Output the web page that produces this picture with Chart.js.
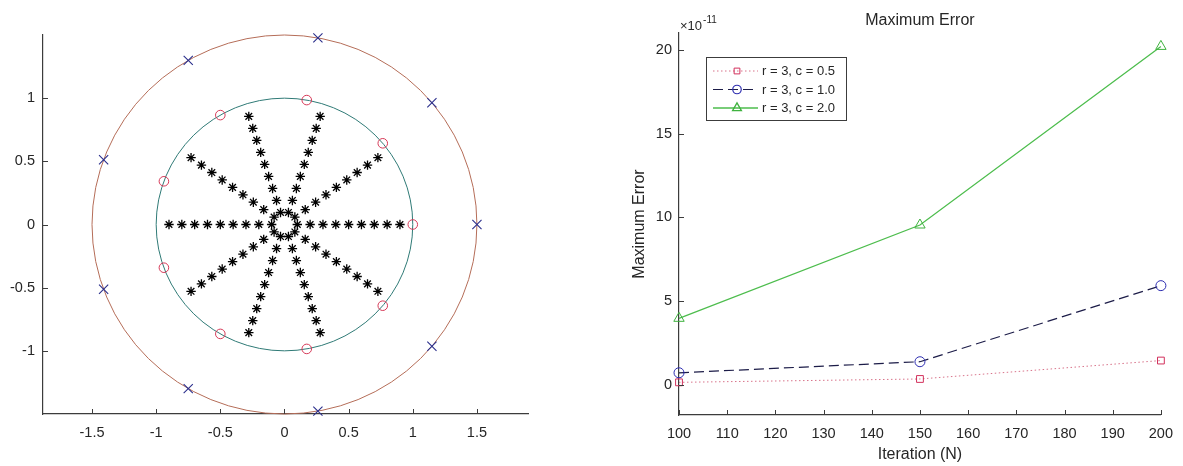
<!DOCTYPE html>
<html>
<head>
<meta charset="utf-8">
<title>Star grid and maximum error</title>
<script src="https://cdn.jsdelivr.net/npm/chart.js@4.4.1/dist/chart.umd.min.js"></script>
<style>
  html, body { margin: 0; padding: 0; background: #fff; }
  #wrap { position: relative; width: 1183px; height: 466px; }
  #left { position: absolute; left: 0; top: 0; }
  #right { position: absolute; left: 560px; top: 0; }
</style>
</head>
<body>
<div id="wrap">
  <canvas id="left" width="560" height="466"></canvas>
  <canvas id="right" width="623" height="466"></canvas>
</div>
<script>
// left panel: star grid inside two circles
const circleRadii = [1.5, 1.0];
const circleColors = ['#b56d58', '#2f7a76'];
const ringAngles = [0, 40, 80, 120, 160, 200, 240, 280, 320];      // degrees
const starRays = [0, 36, 72, 108, 144, 180, 216, 252, 288, 324];   // degrees
const starRadii = [0.1, 0.2, 0.3, 0.4, 0.5, 0.6, 0.7, 0.8, 0.9];
const leftXTicks = [-1.5, -1, -0.5, 0, 0.5, 1, 1.5];
const leftYTicks = [-1, -0.5, 0, 0.5, 1];

// right panel: maximum error per iteration count, in units of 1e-11
const iterations = [100, 150, 200];
const errC05 = [0.15, 0.35, 1.45];
const errC10 = [0.72, 1.38, 5.92];
const errC20 = [3.97, 9.54, 20.2];
const seriesLabels = ['r = 3, c = 0.5', 'r = 3, c = 1.0', 'r = 3, c = 2.0'];
const rightXTicks = [100, 110, 120, 130, 140, 150, 160, 170, 180, 190, 200];
const rightYTicks = [0, 5, 10, 15, 20];

const FONT = "'Liberation Sans', Arial, Helvetica, sans-serif";
const INK = '#262626';
const AXIS = '#3c3c3c';
Chart.defaults.font.family = FONT;
Chart.defaults.color = INK;

const polar = (r, deg) => ({ x: r * Math.cos(deg * Math.PI / 180), y: r * Math.sin(deg * Math.PI / 180) });

// MATLAB-style tick marks pointing into the plot
const inwardTicks = {
  id: 'inwardTicks',
  afterDatasetsDraw(chart) {
    const { ctx, chartArea: a, scales: { x, y } } = chart;
    ctx.save();
    ctx.strokeStyle = AXIS;
    ctx.lineWidth = 1;
    ctx.beginPath();
    x.ticks.forEach(t => {
      const p = Math.round(x.getPixelForValue(t.value)) + 0.5;
      ctx.moveTo(p, a.bottom); ctx.lineTo(p, a.bottom - 5);
    });
    y.ticks.forEach(t => {
      const p = Math.round(y.getPixelForValue(t.value)) + 0.5;
      ctx.moveTo(a.left, p); ctx.lineTo(a.left + 5, p);
    });
    ctx.stroke();
    ctx.restore();
  }
};

// the two reference circles, traced through the axis scales
const circles = {
  id: 'circles',
  beforeDatasetsDraw(chart) {
    const { ctx, scales: { x, y } } = chart;
    const cx = x.getPixelForValue(0), cy = y.getPixelForValue(0);
    ctx.save();
    ctx.lineWidth = 1;
    circleRadii.forEach((r, i) => {
      const rx = x.getPixelForValue(r) - cx;
      const ry = cy - y.getPixelForValue(r);
      ctx.strokeStyle = circleColors[i];
      ctx.beginPath();
      ctx.ellipse(cx, cy, rx, ry, 0, 0, Math.PI * 2);
      ctx.stroke();
    });
    ctx.restore();
  }
};

function axis(tickValues, min, max, opts) {
  return {
    type: 'linear',
    min: min,
    max: max,
    afterBuildTicks: s => { s.ticks = tickValues.map(v => ({ value: v })); },
    afterFit: opts.fit,
    grid: { display: false, drawTicks: false },
    border: { display: true, color: AXIS, width: 1.2 },
    ticks: {
      autoSkip: false,
      maxRotation: 0,
      padding: opts.pad,
      color: INK,
      font: { size: 14.5 },
      callback: opts.fmt || (v => String(v))
    },
    title: opts.title || { display: false }
  };
}

const stars = starRays.flatMap(a => starRadii.map(r => polar(r, a)));

new Chart(document.getElementById('left'), {
  type: 'scatter',
  data: {
    datasets: [
      {
        data: ringAngles.map(a => polar(circleRadii[0], a)),
        pointStyle: 'crossRot', radius: 6.5, borderColor: '#2b2f8c', borderWidth: 1.1, clip: false
      },
      {
        data: ringAngles.map(a => polar(circleRadii[1], a)),
        pointStyle: 'circle', radius: 4.8, borderColor: '#d63a58',
        backgroundColor: 'rgba(0,0,0,0)', borderWidth: 1, clip: false
      },
      {
        data: stars,
        pointStyle: 'star', radius: 4.7, borderColor: '#000', borderWidth: 1.3, clip: false
      }
    ]
  },
  options: {
    responsive: false,
    animation: false,
    events: [],
    layout: { padding: { left: 0, right: 32, top: 35, bottom: 22 } },
    plugins: { legend: { display: false }, tooltip: { enabled: false } },
    scales: {
      x: axis(leftXTicks, -1.882, 1.898, { pad: 10, fit: s => { s.height = 30; } }),
      y: axis(leftYTicks, -1.5, 1.5, { pad: 8, fit: s => { s.width = 43; } })
    }
  },
  plugins: [circles, inwardTicks]
});

// boxed legend with line sample and marker, like the MATLAB one
const boxLegend = {
  id: 'boxLegend',
  afterDraw(chart) {
    const { ctx, chartArea: a } = chart;
    const bx = a.left + 27, by = a.top + 24, bw = 140, bh = 63;
    ctx.save();
    ctx.fillStyle = '#fff';
    ctx.fillRect(bx, by, bw, bh);
    ctx.strokeStyle = AXIS;
    ctx.lineWidth = 1;
    ctx.strokeRect(bx + 0.5, by + 0.5, bw, bh);
    chart.data.datasets.forEach((ds, i) => {
      const ry = by + 14 + i * 18.5;
      ctx.strokeStyle = ds.borderColor;
      ctx.lineWidth = ds.borderWidth;
      ctx.setLineDash(ds.borderDash || []);
      ctx.beginPath();
      ctx.moveTo(bx + 7, ry); ctx.lineTo(bx + 52, ry);
      ctx.stroke();
      ctx.setLineDash([]);
      ctx.strokeStyle = ds.pointBorderColor;
      ctx.fillStyle = 'rgba(0,0,0,0)';
      Chart.helpers.drawPoint(ctx, {
        pointStyle: ds.pointStyle, radius: ds.pointRadius * 0.85, borderWidth: 1, rotation: 0
      }, bx + 31, ry);
      ctx.fillStyle = INK;
      ctx.font = '13px ' + FONT;
      ctx.textBaseline = 'middle';
      ctx.textAlign = 'left';
      ctx.fillText(ds.label, bx + 56, ry + 0.5);
    });
    ctx.restore();
  }
};

// axis exponent above the y axis
const exponent = {
  id: 'exponent',
  afterDraw(chart) {
    const { ctx, chartArea: a } = chart;
    ctx.save();
    ctx.fillStyle = INK;
    ctx.textBaseline = 'alphabetic';
    ctx.textAlign = 'left';
    ctx.font = '13px ' + FONT;
    const base = '\u00d710';
    ctx.fillText(base, a.left + 1, 30);
    const w = ctx.measureText(base).width;
    ctx.font = '10px ' + FONT;
    ctx.fillText('-11', a.left + 2 + w, 23);
    ctx.restore();
  }
};

const points = vals => iterations.map((n, i) => ({ x: n, y: vals[i] }));

new Chart(document.getElementById('right'), {
  type: 'scatter',
  data: {
    datasets: [
      {
        label: seriesLabels[0], data: points(errC05), showLine: true,
        borderColor: '#d8738a', borderWidth: 1, borderDash: [1.5, 2.5],
        pointStyle: 'rect', pointRadius: 4.8, pointBorderColor: '#d2305c',
        pointBackgroundColor: 'rgba(0,0,0,0)', pointBorderWidth: 1, clip: false
      },
      {
        label: seriesLabels[1], data: points(errC10), showLine: true,
        borderColor: '#1c1c48', borderWidth: 1.2, borderDash: [10, 5],
        pointStyle: 'circle', pointRadius: 5, pointBorderColor: '#2d2db0',
        pointBackgroundColor: 'rgba(0,0,0,0)', pointBorderWidth: 1, clip: false
      },
      {
        label: seriesLabels[2], data: points(errC20), showLine: true,
        borderColor: '#4dbd4d', borderWidth: 1.3,
        pointStyle: 'triangle', pointRadius: 6, pointBorderColor: '#3fb23f',
        pointBackgroundColor: 'rgba(0,0,0,0)', pointBorderWidth: 1, clip: false
      }
    ]
  },
  options: {
    responsive: false,
    animation: false,
    events: [],
    layout: { padding: { left: 0, right: 21, top: 0, bottom: 0 } },
    plugins: {
      legend: { display: false },
      tooltip: { enabled: false },
      title: {
        display: true, text: 'Maximum Error', fullSize: false, color: INK,
        font: { size: 16, weight: 'normal' }, padding: { top: 11.4, bottom: 2.4 }
      }
    },
    scales: {
      x: axis(rightXTicks, 100, 200, {
        pad: 10, fit: s => { s.height = 51; },
        title: { display: true, text: 'Iteration (N)', color: INK, font: { size: 16 }, padding: { top: 0, bottom: 1.4 } }
      }),
      y: axis(rightYTicks, -1.8, 21, {
        pad: 7, fit: s => { s.width = 119; },
        title: { display: true, text: 'Maximum Error', color: INK, font: { size: 16 }, padding: { top: 70.4, bottom: 0 } }
      })
    }
  },
  plugins: [inwardTicks, boxLegend, exponent]
});
</script>
</body>
</html>
